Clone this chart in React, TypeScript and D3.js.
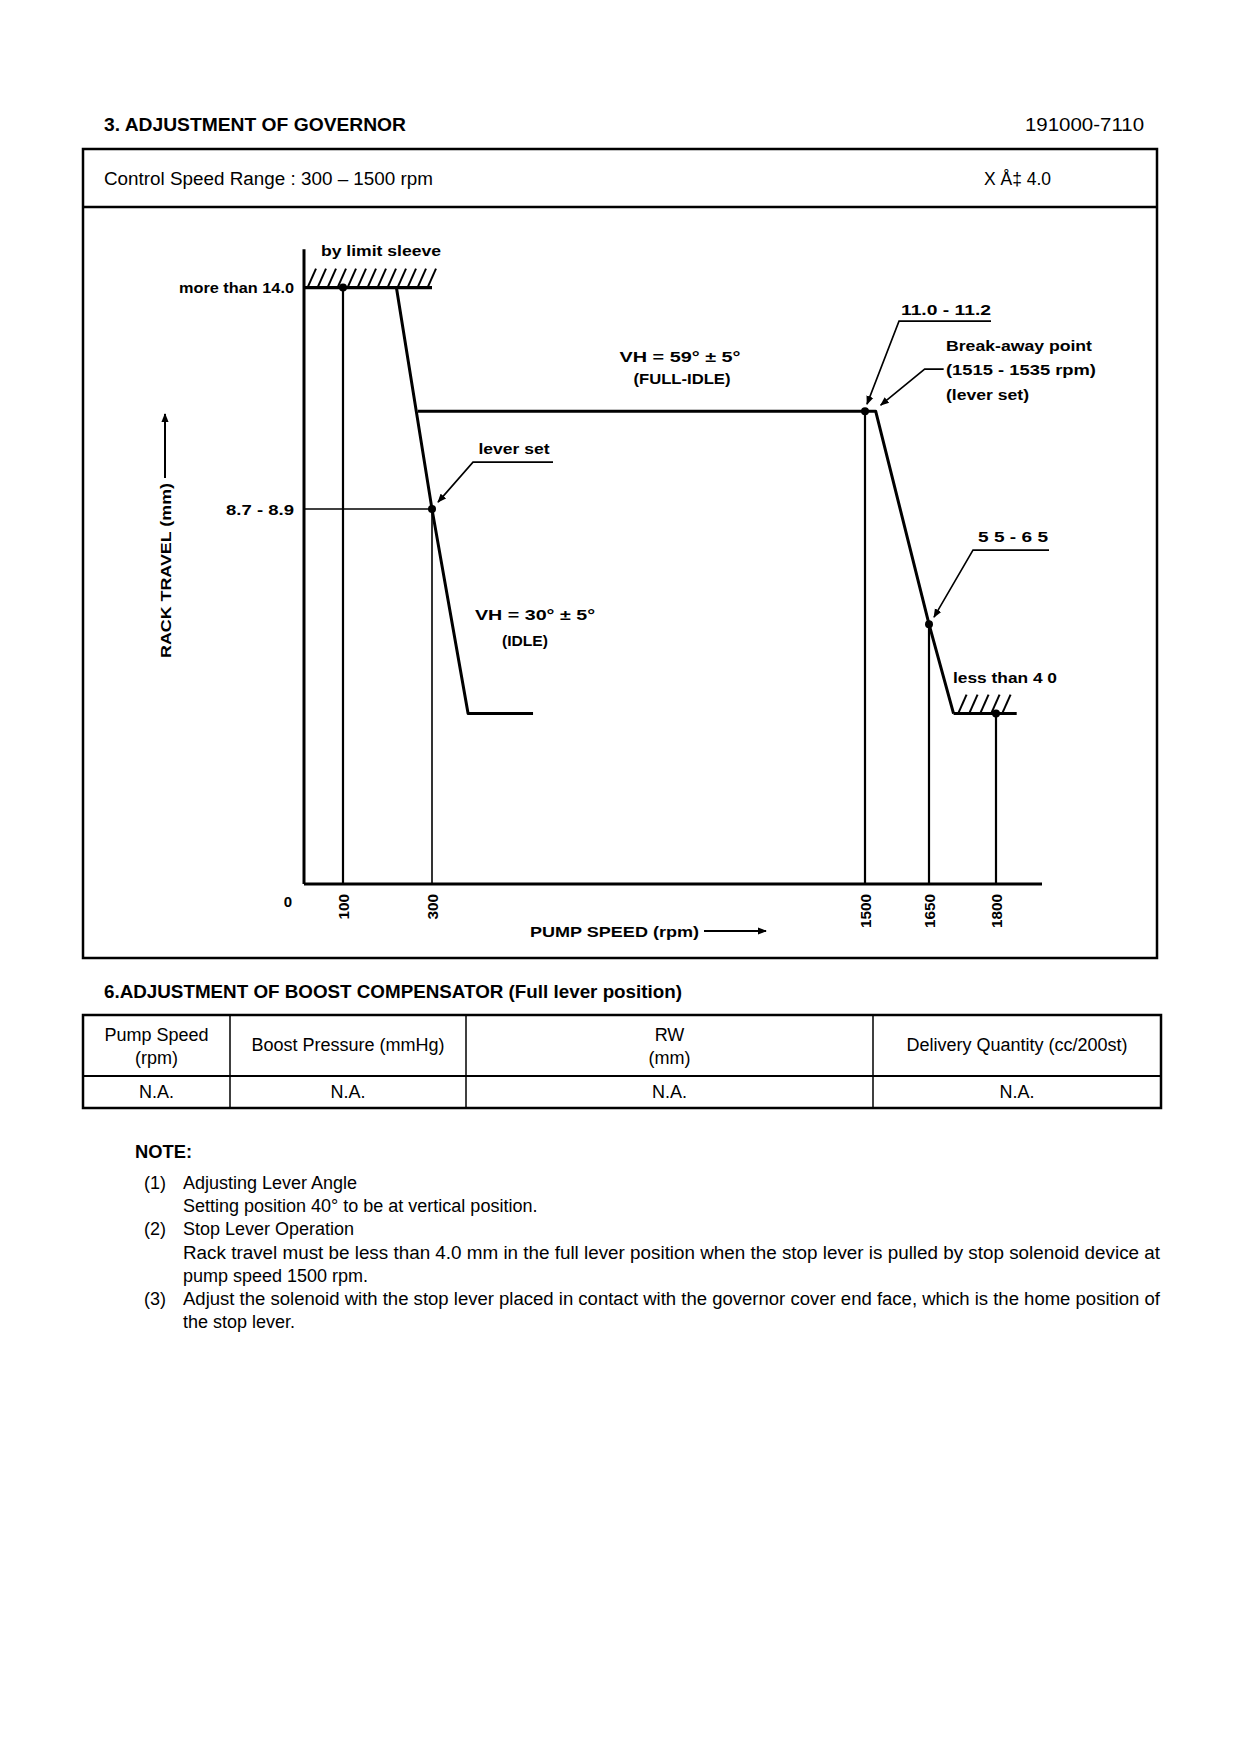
import React from 'react';
import * as d3 from 'd3';

// ---------- data ----------
const speedBreaks = [0, 100, 300, 1500, 1650, 1800, 1900]; // schematic (not-to-scale) axis knots
const speedTicks = [100, 300, 1500, 1650, 1800];
const speedTickLabels = ['100', '300', '1500', '1650', '1800'];
const rackTicks = [14.0, 8.8];
const rackTickLabels = ['more than 14.0', '8.7 - 8.9'];

const idleSpeed = [0, 220, 300, 400, 580];
const idleRack = [14.0, 14.0, 8.8, 4.0, 4.0];
const fullIdleSpeed = [268, 1500, 1525, 1650, 1705];
const fullIdleRack = [11.1, 11.1, 11.1, 6.1, 4.0];
const limitSleeveSpeed = [0, 300];
const limitSleeveRack = 14.0;
const stopSpeed = [1705, 1845];
const stopRack = 4.0;
const checkSpeed = [100, 300, 1500, 1650, 1800];
const checkRack = [14.0, 8.8, 11.1, 6.1, 4.0];

const boostHeaders = [['Pump Speed', '(rpm)'], ['Boost Pressure (mmHg)'], ['RW', '(mm)'], ['Delivery Quantity (cc/200st)']];
const boostValues = ['N.A.', 'N.A.', 'N.A.', 'N.A.'];

const noteNums = ['(1)', '', '(2)', '', '', '(3)', ''];
const noteLines = [
  'Adjusting Lever Angle',
  'Setting position 40° to be at vertical position.',
  'Stop Lever Operation',
  'Rack travel must be less than 4.0 mm in the full lever position when the stop lever is pulled by stop solenoid device at',
  'pump speed 1500 rpm.',
  'Adjust the solenoid with the stop lever placed in contact with the governor cover end face, which is the home position of',
  'the stop lever.',
];
const noteWidths = [0, 0, 0, 977, 0, 977, 0];

// ---------- helpers ----------
const DOC_FONT = '"Liberation Sans", Arial, sans-serif';
const CH_FONT = '"Liberation Sans", Arial, sans-serif';
const CH_SIZE = 15;

type TP = {
  x: number; y: number; w?: number; anchor?: 'start' | 'middle' | 'end'; size?: number;
  weight?: number | string; font?: string; rotate?: number; children: React.ReactNode;
};
function T({ x, y, w, anchor = 'start', size = 18, weight = 400, font = DOC_FONT, rotate, children }: TP) {
  return (
    <text
      x={x}
      y={y}
      textAnchor={anchor}
      dominantBaseline="central"
      fontFamily={font}
      fontSize={size}
      fontWeight={weight}
      fill="#000"
      transform={rotate ? `rotate(${rotate} ${x} ${y})` : undefined}
      {...(w ? { textLength: w, lengthAdjust: 'spacingAndGlyphs' } : {})}
    >
      {children}
    </text>
  );
}

function C(props: Omit<TP, 'font' | 'size' | 'weight'>) {
  return <T {...props} font={CH_FONT} size={CH_SIZE} weight={700} />;
}

export default function App() {
  const x = d3.scaleLinear().domain(speedBreaks).range([304, 343, 432, 865, 929, 996, 1042]);
  const y = d3.scaleLinear().domain([0, 15]).range([884, 245]);
  const line = d3.line<[number, number]>().x(d => x(d[0])).y(d => y(d[1]));

  const idlePts = idleSpeed.map((s, i) => [s, idleRack[i]] as [number, number]);
  const fullPts = fullIdleSpeed.map((s, i) => [s, fullIdleRack[i]] as [number, number]);

  const limX0 = x(limitSleeveSpeed[0]);
  const limX1 = x(limitSleeveSpeed[1]);
  const limY = y(limitSleeveRack);
  const limHatch = d3.range(limX0 + 4, limX1 - 2, 10);
  const stX0 = x(stopSpeed[0]);
  const stX1 = x(stopSpeed[1]);
  const stY = y(stopRack);
  const stHatch = d3.range(stX0 + 5, stX1 - 4, 11);

  const p300 = [x(300), y(8.8)];
  const p1500 = [x(1500), y(11.1)];
  const pBreak = [x(1525), y(11.1)];
  const p1650 = [x(1650), y(6.1)];

  const colX = [83, 230, 466, 873, 1161];
  const rowY = [1015, 1076, 1108];

  return (
    <svg width={1240} height={1754} style={{ position: 'absolute', left: 0, top: 0, background: '#fff' }}>
      <defs>
        <marker id="ah" viewBox="0 0 10 10" refX="9" refY="5" markerWidth="9" markerHeight="9" markerUnits="userSpaceOnUse" orient="auto">
          <path d="M0,1 L10,5 L0,9 z" fill="#000" />
        </marker>
      </defs>
      <rect x={0} y={0} width={1240} height={1754} fill="#fff" />

      {/* headings */}
      <T x={104} y={125} w={302} weight={700}>3.  ADJUSTMENT OF GOVERNOR</T>
      <T x={1144} y={125} w={119} anchor="end">191000-7110</T>
      <rect x={83} y={149} width={1074} height={809} fill="none" stroke="#000" strokeWidth={2.5} />
      <line x1={83} x2={1157} y1={207} y2={207} stroke="#000" strokeWidth={2.5} />
      <T x={104} y={179} w={329}>Control Speed Range : 300 – 1500 rpm</T>
      <T x={984} y={179} w={67}>X Å‡ 4.0</T>

      {/* axes */}
      <line x1={x(0)} x2={x(0)} y1={y(0)} y2={y(14.9)} stroke="#000" strokeWidth={3} />
      <line x1={x(0)} x2={x(1900)} y1={y(0)} y2={y(0)} stroke="#000" strokeWidth={3} />

      {/* reference verticals */}
      {checkSpeed.map((s, i) => (
        <line key={'v' + i} x1={x(s)} x2={x(s)} y1={y(0)} y2={y(checkRack[i])} stroke="#000" strokeWidth={s === 300 ? 1.6 : 2.2} />
      ))}
      <line x1={x(0)} x2={x(300)} y1={y(8.8)} y2={y(8.8)} stroke="#000" strokeWidth={1.5} />

      {/* limit sleeve */}
      <line x1={limX0} x2={limX1} y1={limY} y2={limY} stroke="#000" strokeWidth={3.2} />
      {limHatch.map((hx, i) => (
        <line key={'lh' + i} x1={hx} y1={limY - 1} x2={hx + 8} y2={limY - 19} stroke="#000" strokeWidth={2} />
      ))}
      {/* stop line */}
      <line x1={stX0} x2={stX1} y1={stY} y2={stY} stroke="#000" strokeWidth={3} />
      {stHatch.map((hx, i) => (
        <line key={'sh' + i} x1={hx} y1={stY - 1} x2={hx + 8} y2={stY - 19} stroke="#000" strokeWidth={2} />
      ))}

      {/* governor curves */}
      <path d={line(idlePts) || ''} fill="none" stroke="#000" strokeWidth={3} strokeLinejoin="round" />
      <path d={line(fullPts) || ''} fill="none" stroke="#000" strokeWidth={3} strokeLinejoin="round" />

      {/* check points */}
      {checkSpeed.map((s, i) => (
        <circle key={'c' + i} cx={x(s)} cy={y(checkRack[i])} r={4} fill="#000" />
      ))}

      {/* y labels */}
      {rackTicks.map((v, i) => (
        <C key={'yt' + i} x={294} y={y(v)} anchor="end" w={i === 0 ? 115 : 68}>{rackTickLabels[i]}</C>
      ))}
      <C x={288} y={901} anchor="middle">0</C>
      {speedTicks.map((s, i) => (
        <C key={'xt' + i} x={x(s)} y={894} anchor="end" rotate={-90} w={speedTickLabels[i].length * 8.5}>{speedTickLabels[i]}</C>
      ))}

      {/* axis titles */}
      <C x={530} y={931} w={169}>PUMP SPEED (rpm)</C>
      <line x1={704} x2={766} y1={931} y2={931} stroke="#000" strokeWidth={2} markerEnd="url(#ah)" />
      <C x={165} y={658} w={175} rotate={-90}>RACK TRAVEL (mm)</C>
      <line x1={165} x2={165} y1={478} y2={414} stroke="#000" strokeWidth={2} markerEnd="url(#ah)" />

      {/* annotations */}
      <C x={381} y={250} w={120} anchor="middle">by limit sleeve</C>

      <C x={514} y={448} w={71} anchor="middle">lever set</C>
      <polyline points={`${p300[0] + 121},${p300[1] - 47} ${p300[0] + 41},${p300[1] - 47} ${p300[0] + 6},${p300[1] - 7}`}
        fill="none" stroke="#000" strokeWidth={1.6} markerEnd="url(#ah)" />

      <C x={535} y={614} w={120} anchor="middle">VH = 30° ± 5°</C>
      <C x={525} y={640} w={46} anchor="middle">(IDLE)</C>

      <C x={680} y={356} w={121} anchor="middle">VH = 59° ± 5°</C>
      <C x={682} y={378} w={97} anchor="middle">(FULL-IDLE)</C>

      <C x={946} y={309} w={90} anchor="middle">11.0 - 11.2</C>
      <polyline points={`${p1500[0] + 126},${p1500[1] - 90} ${p1500[0] + 34},${p1500[1] - 90} ${p1500[0] + 2},${p1500[1] - 7}`}
        fill="none" stroke="#000" strokeWidth={1.6} markerEnd="url(#ah)" />

      <C x={946} y={345} w={146}>Break-away point</C>
      <C x={946} y={369} w={150}>(1515 - 1535 rpm)</C>
      <C x={946} y={394} w={83}>(lever set)</C>
      <polyline points={`${pBreak[0] + 68},${pBreak[1] - 42} ${pBreak[0] + 49},${pBreak[1] - 42} ${pBreak[0] + 5},${pBreak[1] - 6}`}
        fill="none" stroke="#000" strokeWidth={1.6} markerEnd="url(#ah)" />

      <C x={1013} y={536} w={70} anchor="middle">5 5 - 6 5</C>
      <polyline points={`${p1650[0] + 120},${p1650[1] - 74} ${p1650[0] + 44},${p1650[1] - 74} ${p1650[0] + 5},${p1650[1] - 7}`}
        fill="none" stroke="#000" strokeWidth={1.6} markerEnd="url(#ah)" />

      <C x={953} y={677} w={104}>less than 4 0</C>

      {/* boost compensator */}
      <T x={104} y={992} w={578} weight={700}>6.ADJUSTMENT OF BOOST COMPENSATOR (Full lever position)</T>
      <rect x={colX[0]} y={rowY[0]} width={colX[4] - colX[0]} height={rowY[2] - rowY[0]} fill="none" stroke="#000" strokeWidth={2.5} />
      <line x1={colX[0]} x2={colX[4]} y1={rowY[1]} y2={rowY[1]} stroke="#000" strokeWidth={2} />
      {colX.slice(1, 4).map((cx, i) => (
        <line key={'cl' + i} x1={cx} x2={cx} y1={rowY[0]} y2={rowY[2]} stroke="#000" strokeWidth={1.5} />
      ))}
      {boostHeaders.map((h, i) => {
        const cx = (colX[i] + colX[i + 1]) / 2;
        return h.length === 2 ? (
          <g key={'bh' + i}>
            <T x={cx} y={1035} anchor="middle">{h[0]}</T>
            <T x={cx} y={1058} anchor="middle">{h[1]}</T>
          </g>
        ) : (
          <T key={'bh' + i} x={cx} y={1045} anchor="middle">{h[0]}</T>
        );
      })}
      {boostValues.map((v, i) => (
        <T key={'bv' + i} x={(colX[i] + colX[i + 1]) / 2} y={1092} anchor="middle">{v}</T>
      ))}

      {/* notes */}
      <T x={135} y={1152} w={57} weight={700}>NOTE:</T>
      {noteLines.map((l, i) => (
        <g key={'n' + i}>
          {noteNums[i] ? <T x={144} y={1183 + i * 23.2}>{noteNums[i]}</T> : null}
          <T x={183} y={1183 + i * 23.2} w={noteWidths[i] || undefined}>{l}</T>
        </g>
      ))}
    </svg>
  );
}
